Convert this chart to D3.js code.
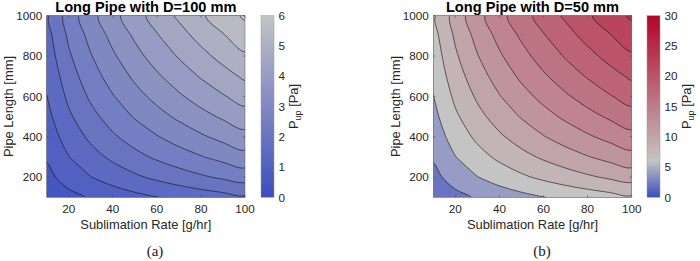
<!DOCTYPE html>
<html>
<head>
<meta charset="utf-8">
<script src="https://cdn.jsdelivr.net/npm/d3@7"></script>
<style>
  body { margin: 0; background: #fff; }
  text { font-family: "Liberation Sans", Arial, sans-serif; fill: #262626; }
  .cap { font-family: "Liberation Serif", "DejaVu Serif", serif; fill: #222; }
</style>
</head>
<body>
<svg id="fig" width="700" height="261"></svg>
<script>
'use strict'

// grid axes (sublimation rate in g/hr, pipe length in mm)
const rates = [10, 20, 30, 40, 50, 60, 70, 80, 90, 100]
const lengths = [100, 200, 300, 400, 500, 600, 700, 800, 900, 1000]

// P_up [Pa], one row per pipe length, one column per rate -- D = 100 mm
const pLeft = [
  [0.61, 0.86, 1.05, 1.21, 1.36, 1.49, 1.61, 1.72, 1.82, 1.92],
  [0.86, 1.21, 1.49, 1.72, 1.92, 2.10, 2.27, 2.43, 2.58, 2.72],
  [1.05, 1.49, 1.82, 2.10, 2.35, 2.58, 2.78, 2.97, 3.15, 3.33],
  [1.21, 1.72, 2.10, 2.43, 2.72, 2.97, 3.21, 3.43, 3.64, 3.84],
  [1.36, 1.92, 2.35, 2.72, 3.04, 3.33, 3.59, 3.84, 4.07, 4.29],
  [1.49, 2.10, 2.58, 2.97, 3.33, 3.64, 3.93, 4.21, 4.46, 4.70],
  [1.61, 2.27, 2.78, 3.21, 3.59, 3.93, 4.25, 4.54, 4.82, 5.08],
  [1.72, 2.43, 2.97, 3.43, 3.84, 4.21, 4.54, 4.86, 5.15, 5.43],
  [1.82, 2.58, 3.15, 3.64, 4.07, 4.46, 4.82, 5.15, 5.46, 5.76],
  [1.92, 2.72, 3.33, 3.84, 4.29, 4.70, 5.08, 5.43, 5.76, 6.07]
]

// P_up [Pa] -- D = 50 mm
const pRight = [
  [2.43, 3.43, 4.21, 4.86, 5.43, 5.95, 6.43, 6.87, 7.29, 7.68],
  [3.43, 4.86, 5.95, 6.87, 7.68, 8.41, 9.09, 9.71, 10.30, 10.86],
  [4.21, 5.95, 7.29, 8.41, 9.41, 10.30, 11.13, 11.90, 12.62, 13.30],
  [4.86, 6.87, 8.41, 9.71, 10.86, 11.90, 12.85, 13.74, 14.57, 15.36],
  [5.43, 7.68, 9.41, 10.86, 12.14, 13.30, 14.37, 15.36, 16.29, 17.17],
  [5.95, 8.41, 10.30, 11.90, 13.30, 14.57, 15.74, 16.83, 17.85, 18.81],
  [6.43, 9.09, 11.13, 12.85, 14.37, 15.74, 17.00, 18.17, 19.28, 20.32],
  [6.87, 9.71, 11.90, 13.74, 15.36, 16.83, 18.17, 19.43, 20.61, 21.72],
  [7.29, 10.30, 12.62, 14.57, 16.29, 17.85, 19.28, 20.61, 21.86, 23.04],
  [7.68, 10.86, 13.30, 15.36, 17.17, 18.81, 20.32, 21.72, 23.04, 24.29]
]

const levelsLeft = [0.5, 1, 1.5, 2, 2.5, 3, 3.5, 4, 4.5, 5, 5.5, 6]
const levelsRight = [2, 4, 6, 8, 10, 12, 14, 16, 18, 20, 22, 24, 26, 28, 30]

const rateTicks = [20, 40, 60, 80, 100]
const lengthTicks = [200, 400, 600, 800, 1000]
const barTicksLeft = [0, 1, 2, 3, 4, 5, 6]
const barTicksRight = [0, 5, 10, 15, 20, 25, 30]

// blue -> gray at 6 Pa -> red
const color = d3.scaleLinear()
  .domain([0, 6, 30])
  .range(['#3b4cc0', '#c4c4c4', '#b40426'])
  .clamp(true)

const svg = d3.select('#fig')
const plotTop = 15.7, plotBottom = 197.3

function panel(o) {
  const g = svg.append('g')
  const x = d3.scaleLinear().domain([10, 100]).range([o.x0, o.x1])
  const y = d3.scaleLinear().domain([100, 1000]).range([plotBottom, plotTop])
  // contour grid coords -> data (sample i sits at i + 0.5)
  const gx = d3.scaleLinear().domain([0.5, rates.length - 0.5]).range([rates[0], rates[rates.length - 1]])
  const gy = d3.scaleLinear().domain([0.5, lengths.length - 0.5]).range([lengths[0], lengths[lengths.length - 1]])

  g.append('clipPath').attr('id', o.id).append('rect')
    .attr('x', o.x0).attr('y', plotTop).attr('width', o.x1 - o.x0).attr('height', plotBottom - plotTop)

  const contours = d3.contours()
    .size([rates.length, lengths.length])
    .thresholds(o.levels)(o.grid.flat())

  // smooth each ring (marching squares gives polylines)
  const ringLine = d3.line()
    .x(p => x(gx(p[0])))
    .y(p => y(gy(p[1])))
    .curve(d3.curveCatmullRomClosed.alpha(0.5))
  const pathOf = mp => mp.coordinates
    .map(poly => poly.map(ring => ringLine(ring.slice(0, -1))).join(''))
    .join('')

  const plot = g.append('g').attr('clip-path', `url(#${o.id})`)
  plot.append('rect')
    .attr('x', o.x0).attr('y', plotTop).attr('width', o.x1 - o.x0).attr('height', plotBottom - plotTop)
    .attr('fill', color(o.levels[0]))
  plot.selectAll('path.band')
    .data(contours)
    .join('path')
    .attr('class', 'band')
    .attr('d', pathOf)
    .attr('fill-rule', 'evenodd')
    .attr('fill', d => color(d.value))
  plot.selectAll('path.line')
    .data(contours)
    .join('path')
    .attr('class', 'line')
    .attr('d', pathOf)
    .attr('fill', 'none')
    .attr('stroke', '#111')
    .attr('stroke-width', 0.6)

  // box + inward ticks
  g.append('rect')
    .attr('x', o.x0).attr('y', plotTop).attr('width', o.x1 - o.x0).attr('height', plotBottom - plotTop)
    .attr('fill', 'none').attr('stroke', '#6e6e6e').attr('stroke-width', 0.6)
  const tl = 2
  for (const t of rateTicks) {
    g.append('line').attr('x1', x(t)).attr('x2', x(t)).attr('y1', plotBottom).attr('y2', plotBottom - tl)
      .attr('stroke', '#444').attr('stroke-width', 0.6)
    g.append('line').attr('x1', x(t)).attr('x2', x(t)).attr('y1', plotTop).attr('y2', plotTop + tl)
      .attr('stroke', '#444').attr('stroke-width', 0.6)
    g.append('text').attr('x', x(t)).attr('y', 213).attr('text-anchor', 'middle')
      .style('font-size', '11.7px').text(t)
  }
  for (const t of lengthTicks) {
    g.append('line').attr('x1', o.x0).attr('x2', o.x0 + tl).attr('y1', y(t)).attr('y2', y(t))
      .attr('stroke', '#444').attr('stroke-width', 0.6)
    g.append('line').attr('x1', o.x1).attr('x2', o.x1 - tl).attr('y1', y(t)).attr('y2', y(t))
      .attr('stroke', '#444').attr('stroke-width', 0.6)
    g.append('text').attr('x', o.x0 - 4.5).attr('y', y(t) + 4.2).attr('text-anchor', 'end')
      .style('font-size', '11.7px').text(t)
  }

  // labels
  const cx = (o.x0 + o.x1) / 2
  g.append('text').attr('x', cx).attr('y', 11.8).attr('text-anchor', 'middle')
    .style('font-size', '14.6px').style('font-weight', 'bold').style('fill', '#000').text(o.title)
  g.append('text').attr('x', cx).attr('y', 228.5).attr('text-anchor', 'middle')
    .style('font-size', '12.9px').text('Sublimation Rate [g/hr]')
  g.append('text').attr('transform', `translate(${o.x0 - 33.5},${(plotTop + plotBottom) / 2}) rotate(-90)`)
    .attr('text-anchor', 'middle').style('font-size', '12.9px').text('Pipe Length [mm]')

  // colorbar
  const grad = svg.append('defs').append('linearGradient').attr('id', o.id + 'g')
    .attr('x1', 0).attr('y1', 1).attr('x2', 0).attr('y2', 0)
  const steps = d3.range(0, 1.0001, 0.05)
  grad.selectAll('stop').data(steps).join('stop')
    .attr('offset', d => d)
    .attr('stop-color', d => color(d * o.barMax))
  const cb = d3.scaleLinear().domain([0, o.barMax]).range([plotBottom, plotTop])
  g.append('rect').attr('x', o.cb0).attr('y', plotTop).attr('width', o.cb1 - o.cb0).attr('height', plotBottom - plotTop)
    .attr('fill', `url(#${o.id}g)`).attr('stroke', '#9a9a9a').attr('stroke-width', 0.5)
  for (const t of o.barTicks) {
    g.append('text').attr('x', o.cb1 + 4.5).attr('y', cb(t) + 4.2)
      .style('font-size', '11.7px').text(t)
  }
  const lab = g.append('text')
    .attr('transform', `translate(${o.cb1 + o.labOff},${(plotTop + plotBottom) / 2}) rotate(-90)`)
    .attr('text-anchor', 'middle').style('font-size', '12.9px')
  lab.append('tspan').text('P')
  lab.append('tspan').attr('dy', 3).style('font-size', '9px').text('up')
  lab.append('tspan').attr('dy', -3).text(' [Pa]')

  // subfigure caption
  svg.append('text').attr('class', 'cap').attr('x', o.capX).attr('y', 256)
    .attr('text-anchor', 'middle').style('font-size', '15px').text(o.caption)
}

panel({
  id: 'pa', x0: 46.7, x1: 245, cb0: 261, cb1: 274, labOff: 24, grid: pLeft, levels: levelsLeft,
  barMax: 6, barTicks: barTicksLeft, title: 'Long Pipe with D=100 mm', caption: '(a)', capX: 155
})
panel({
  id: 'pb', x0: 433.3, x1: 631.7, cb0: 647, cb1: 660, labOff: 30.5, grid: pRight, levels: levelsRight,
  barMax: 30, barTicks: barTicksRight, title: 'Long Pipe with D=50 mm', caption: '(b)', capX: 542
})
</script>
</body>
</html>
